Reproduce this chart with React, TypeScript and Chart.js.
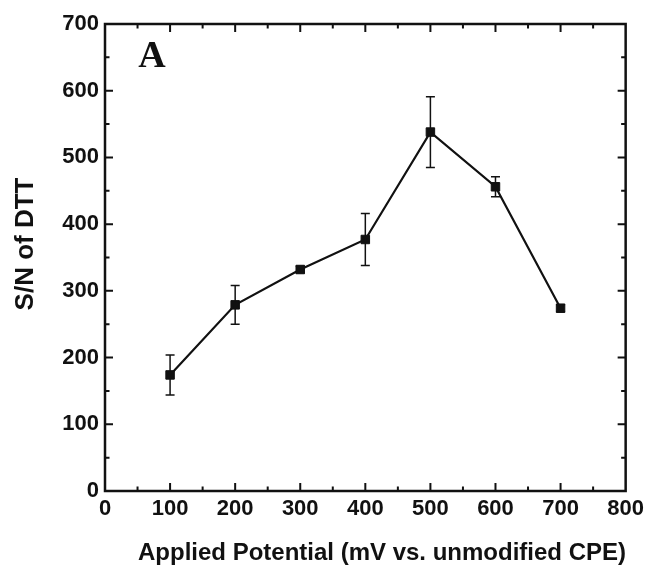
import React, { useEffect, useRef } from "react";
import { Chart, registerables } from "chart.js";

Chart.register(...registerables);

const potentials = [100, 200, 300, 400, 500, 600, 700];
const snValues = [174, 279, 332, 377, 538, 456, 274];
const snErrors = [30, 29, 5, 39, 53, 15, 5];

const xTitle = "Applied Potential (mV vs. unmodified CPE)";
const yTitle = "S/N of DTT";
const panelLabel = "A";

const SANS = "'Liberation Sans', Arial, sans-serif";
const SERIF = "'Liberation Serif', 'Times New Roman', serif";

const customPlugin = {
  id: "customDecor",
  beforeDatasetsDraw(chart: any) {
    const ctx = chart.ctx;
    const xs = chart.scales.x;
    const ys = chart.scales.y;
    ctx.save();
    ctx.strokeStyle = "#111";
    ctx.lineWidth = 1.5;
    potentials.forEach((p, i) => {
      const x = xs.getPixelForValue(p);
      const yt = ys.getPixelForValue(snValues[i] + snErrors[i]);
      const yb = ys.getPixelForValue(snValues[i] - snErrors[i]);
      const cap = 4.5;
      ctx.beginPath();
      ctx.moveTo(x, yt);
      ctx.lineTo(x, yb);
      ctx.moveTo(x - cap, yt);
      ctx.lineTo(x + cap, yt);
      ctx.moveTo(x - cap, yb);
      ctx.lineTo(x + cap, yb);
      ctx.stroke();
    });
    ctx.restore();
  },
  afterDraw(chart: any) {
    const ctx = chart.ctx;
    const { left, right, top, bottom } = chart.chartArea;
    const xs = chart.scales.x;
    const ys = chart.scales.y;
    ctx.save();
    // frame
    ctx.strokeStyle = "#111";
    ctx.lineWidth = 2.5;
    ctx.strokeRect(left, top, right - left, bottom - top);

    // ticks
    ctx.lineWidth = 2;
    const major = 8;
    const minor = 4.5;
    const xt = xs.ticks.map((t: any) => t.value);
    const yt = ys.ticks.map((t: any) => t.value);
    const drawX = (v: number, len: number) => {
      const x = xs.getPixelForValue(v);
      ctx.beginPath();
      ctx.moveTo(x, bottom);
      ctx.lineTo(x, bottom - len);
      ctx.moveTo(x, top);
      ctx.lineTo(x, top + len);
      ctx.stroke();
    };
    const drawY = (v: number, len: number) => {
      const y = ys.getPixelForValue(v);
      ctx.beginPath();
      ctx.moveTo(left, y);
      ctx.lineTo(left + len, y);
      ctx.moveTo(right, y);
      ctx.lineTo(right - len, y);
      ctx.stroke();
    };
    xt.forEach((v: number, i: number) => {
      if (i > 0 && i < xt.length - 1) drawX(v, major);
      if (i < xt.length - 1) drawX((v + xt[i + 1]) / 2, minor);
    });
    yt.forEach((v: number, i: number) => {
      if (i > 0 && i < yt.length - 1) drawY(v, major);
      if (i < yt.length - 1) drawY((v + yt[i + 1]) / 2, minor);
    });

    // axis titles
    ctx.fillStyle = "#111";
    ctx.font = `bold 24px ${SANS}`;
    ctx.textAlign = "center";
    ctx.textBaseline = "middle";
    ctx.fillText(xTitle, 382, 553);

    ctx.save();
    ctx.translate(26, 244);
    ctx.rotate(-Math.PI / 2);
    ctx.font = `bold 26px ${SANS}`;
    ctx.fillText(yTitle, 0, 0);
    ctx.restore();

    // panel label
    ctx.font = `bold 38px ${SERIF}`;
    ctx.textAlign = "center";
    ctx.textBaseline = "alphabetic";
    ctx.fillText(panelLabel, 152, 67);
    ctx.restore();
  },
};

export default function App() {
  const ref = useRef<HTMLCanvasElement | null>(null);
  useEffect(() => {
    if (!ref.current) return;
    const chart = new Chart(ref.current, {
      type: "line",
      data: {
        datasets: [
          {
            data: potentials.map((p, i) => ({ x: p, y: snValues[i] })),
            borderColor: "#111",
            backgroundColor: "#111",
            borderWidth: 2.2,
            pointStyle: "rect",
            pointRadius: 6,
            pointBorderWidth: 1,
            pointBackgroundColor: "#111",
            pointBorderColor: "#111",
            tension: 0,
          },
        ],
      },
      options: {
        responsive: false,
        animation: false,
        layout: { padding: { top: 24, right: 22, left: 0, bottom: 0 } },
        plugins: {
          legend: { display: false },
          tooltip: { enabled: false },
        },
        scales: {
          x: {
            type: "linear",
            min: 0,
            max: 800,
            grid: { display: false, drawTicks: false },
            border: { display: false },
            ticks: {
              stepSize: 100,
              color: "#111",
              padding: 5,
              maxRotation: 0,
              font: { family: SANS, size: 22, weight: "bold" },
            },
            afterFit: (s: any) => {
              s.height = 76;
            },
          },
          y: {
            type: "linear",
            min: 0,
            max: 700,
            grid: { display: false, drawTicks: false },
            border: { display: false },
            ticks: {
              stepSize: 100,
              color: "#111",
              padding: 6,
              font: { family: SANS, size: 22, weight: "bold" },
            },
            afterFit: (s: any) => {
              s.width = 105;
            },
          },
        },
      },
      plugins: [customPlugin],
    } as any);
    return () => chart.destroy();
  }, []);
  return (
    <canvas
      ref={ref}
      width={649}
      height={567}
      style={{ position: "absolute", left: 0, top: 0, display: "block", background: "#fff" }}
    />
  );
}
